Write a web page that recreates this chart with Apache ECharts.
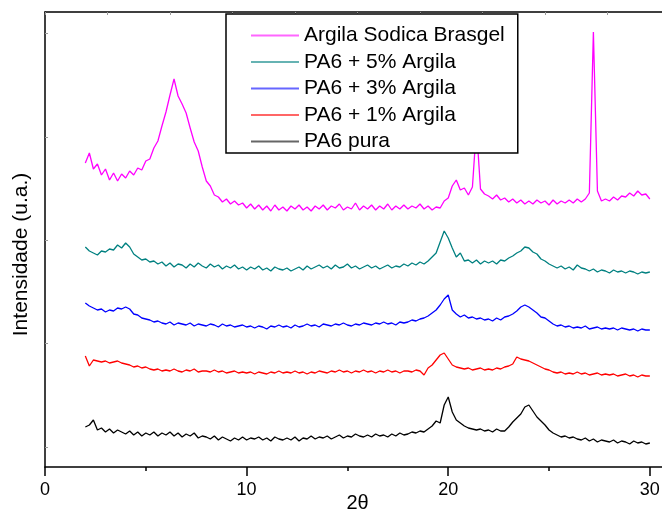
<!DOCTYPE html>
<html>
<head>
<meta charset="utf-8">
<title>DRX - PA6 / argila</title>
<script src="https://cdn.jsdelivr.net/npm/echarts@6/dist/echarts.min.js"></script>
<style>
  html, body { margin: 0; padding: 0; background: #fff; }
  #chart { width: 662px; height: 511px; }
</style>
</head>
<body>
<div id="chart"></div>
<script>
// 2θ (graus), passo 0.2
const TWO_THETA = [
  2.0, 2.2, 2.4, 2.6, 2.8, 3.0, 3.2, 3.4, 3.6, 3.8,
  4.0, 4.2, 4.4, 4.6, 4.8, 5.0, 5.2, 5.4, 5.6, 5.8,
  6.0, 6.2, 6.4, 6.6, 6.8, 7.0, 7.2, 7.4, 7.6, 7.8,
  8.0, 8.2, 8.4, 8.6, 8.8, 9.0, 9.2, 9.4, 9.6, 9.8,
  10.0, 10.2, 10.4, 10.6, 10.8, 11.0, 11.2, 11.4, 11.6, 11.8,
  12.0, 12.2, 12.4, 12.6, 12.8, 13.0, 13.2, 13.4, 13.6, 13.8,
  14.0, 14.2, 14.4, 14.6, 14.8, 15.0, 15.2, 15.4, 15.6, 15.8,
  16.0, 16.2, 16.4, 16.6, 16.8, 17.0, 17.2, 17.4, 17.6, 17.8,
  18.0, 18.2, 18.4, 18.6, 18.8, 19.0, 19.2, 19.4, 19.6, 19.8,
  20.0, 20.2, 20.4, 20.6, 20.8, 21.0, 21.2, 21.4, 21.6, 21.8,
  22.0, 22.2, 22.4, 22.6, 22.8, 23.0, 23.2, 23.4, 23.6, 23.8,
  24.0, 24.2, 24.4, 24.6, 24.8, 25.0, 25.2, 25.4, 25.6, 25.8,
  26.0, 26.2, 26.4, 26.6, 26.8, 27.0, 27.2, 27.4, 27.6, 27.8,
  28.0, 28.2, 28.4, 28.6, 28.8, 29.0, 29.2, 29.4, 29.6, 29.8,
  30.0
];

// intensidades (u.a.), curvas já deslocadas como no gráfico original
const ARGILA_SODICA = [
  304, 314, 298, 303, 292, 298, 287, 294, 286, 293,
  289, 296, 292, 299, 297, 306, 308, 319, 326, 341,
  355, 372, 388, 371, 363, 354, 339, 325, 316, 300,
  286, 281, 272, 270, 265, 268, 263, 266, 262, 264,
  259, 263, 258, 262, 257, 261, 256, 262, 257, 260,
  256, 261, 258, 262, 257, 260, 256, 261, 258, 262,
  257, 261, 259, 263, 257, 260, 258, 264, 257, 261,
  258, 262, 257, 261, 258, 263, 257, 261, 258, 262,
  258, 261, 259, 263, 258, 261, 257, 260, 259, 266,
  269, 281, 287, 277, 279, 272, 280, 340, 278, 273,
  271, 268, 272, 267, 269, 265, 268, 264, 267, 263,
  266, 263, 267, 264, 266, 262, 267, 263, 266, 264,
  267, 264, 268, 265, 268, 274, 435, 276, 266, 268,
  266, 270, 267, 271, 270, 274, 271, 276, 272, 273,
  268
];

const PA6_5 = [
  220, 216, 214, 212, 216, 215, 218, 217, 222, 219,
  224, 220, 213, 210, 207, 208, 205, 206, 203, 205,
  201, 204, 200, 203, 202, 199, 203, 200, 204, 201,
  199, 203, 200, 202, 198, 201, 199, 202, 198, 200,
  197, 200, 198, 201, 197, 199, 196, 200, 198, 197,
  199, 196, 198, 200, 197, 201, 198, 200, 202, 199,
  201, 198, 202, 199, 200, 203, 199, 201, 198, 200,
  202, 199, 201, 198, 200, 202, 199, 201, 200, 203,
  201, 204, 202, 205, 203, 206, 210, 214, 225, 236,
  229, 219, 210, 214, 206, 207, 204, 207, 203, 206,
  204, 206, 203, 207, 206, 209, 211, 214, 216, 220,
  219, 215, 213, 208, 206, 203, 201, 199, 201, 198,
  200, 197, 202, 199, 198, 196, 198, 195, 197, 196,
  194, 197, 195, 196, 194, 196, 195, 193, 195, 194,
  195
];

const PA6_3 = [
  164, 161, 159, 157, 158, 155, 157, 156, 159, 158,
  160, 158, 153, 152, 149, 148, 147, 145, 146, 144,
  143, 145, 142, 144, 143, 142, 144, 141, 143, 142,
  141, 143, 142, 140, 143, 141, 142, 140, 141, 142,
  140, 141, 139, 141, 140, 138, 141, 140, 142, 140,
  141, 139, 142, 140, 141, 143, 141, 142, 140, 143,
  142, 141, 143, 142, 144, 142, 141, 143, 142, 144,
  143, 142, 144, 143, 145, 143, 144, 142, 145, 144,
  145, 147, 146, 148, 149, 151, 154, 157, 162, 168,
  172, 157, 153, 150, 152, 149, 150, 148, 149, 147,
  148, 146, 149, 147, 150, 151, 153, 156, 160, 162,
  160, 157, 154, 150, 149, 146, 143, 141, 142, 140,
  141, 139, 140, 139, 141, 138, 139, 140, 138, 139,
  138, 139, 137, 139, 138, 137, 138, 136, 138, 137,
  137
];

const PA6_1 = [
  111, 101, 107, 106, 105, 106, 104, 105, 106, 104,
  103, 102, 100, 101, 99, 100, 98, 97, 98, 96,
  97, 96, 98, 96, 95, 97, 96, 98, 95, 96,
  96, 95, 97, 95, 96, 94, 95, 96, 94, 95,
  94, 95, 93, 95, 94, 93, 95, 94, 96, 94,
  95, 94, 96, 94, 95, 93, 95, 94, 96, 95,
  94, 96, 95, 97, 95, 96, 94, 96, 95, 97,
  95, 96, 94, 96, 95, 97, 95, 96, 94, 96,
  96, 95, 97, 96, 92, 99, 102, 107, 112, 114,
  108, 102, 100, 99, 98, 99, 97, 98, 99, 97,
  98, 97, 99, 98, 100, 101, 103, 110, 108, 107,
  106, 104, 102, 100, 98, 97, 95, 94, 95, 93,
  94, 93, 95, 93, 94, 92, 93, 94, 92, 93,
  92, 93, 91, 92, 93, 91, 92, 90, 92, 91,
  91
];

const PA6_PURA = [
  40, 42, 47, 37, 39, 35, 38, 34, 37, 35,
  33, 36, 32, 35, 31, 34, 32, 35, 31, 34,
  32, 35, 31, 34, 30, 33, 31, 34, 29, 31,
  30, 28, 31, 27, 30, 28, 26, 29, 27, 30,
  27, 29, 28, 30, 27, 29, 26, 30, 28, 27,
  29, 27, 30, 26, 29, 28, 31, 28, 30, 29,
  31, 28, 30, 32, 29, 31, 30, 33, 31, 30,
  32, 30, 33, 31, 32, 30, 33, 31, 34, 32,
  33, 35, 34, 36, 35, 38, 41, 46, 44, 62,
  70, 55, 47, 44, 41, 39, 38, 37, 38, 36,
  37, 35, 38, 36, 36, 40, 45, 49, 53, 60,
  62, 56, 50, 46, 42, 37, 34, 32, 30, 31,
  29, 30, 28, 27, 29, 26, 28, 25, 27, 26,
  25, 27, 24, 26, 25, 23, 26, 24, 25, 23,
  24
];

const SERIES_NAMES = [
  'Argila Sodica Brasgel',
  'PA6 + 5% Argila',
  'PA6 + 3% Argila',
  'PA6 + 1% Argila',
  'PA6 pura'
];
const SERIES_VALUES = [ARGILA_SODICA, PA6_5, PA6_3, PA6_1, PA6_PURA];
const SERIES_COLORS = ['#ff00ff', '#008080', '#0000ff', '#ff0000', '#000000'];

// marcas do eixo y (sem rótulos)
const Y_TICKS = [20, 124, 227, 330, 434];

const FONT = '"Liberation Sans", Arial, sans-serif';

const chart = echarts.init(document.getElementById('chart'), null, { renderer: 'canvas' });

const option = {
  animation: false,
  backgroundColor: '#fff',
  grid: {
    left: 45,
    top: 12,
    width: 625,
    height: 455,
    outerBoundsMode: 'none'
  },
  legend: {
    orient: 'vertical',
    left: 226,
    top: 14,
    padding: [11, 13, 1, 24],
    itemWidth: 48,
    itemHeight: 20,
    itemGap: 5.5,
    backgroundColor: '#fff',
    borderColor: '#000',
    borderWidth: 1.5,
    borderRadius: 0,
    data: SERIES_NAMES,
    // só a linha, sem o marcador redondo
    itemStyle: { opacity: 0 },
    lineStyle: { width: 2, opacity: 0.6 },
    textStyle: {
      fontFamily: FONT,
      fontSize: 21,
      lineHeight: 20,
      color: '#000'
    }
  },
  xAxis: [
    {
      type: 'value',
      position: 'bottom',
      min: 0,
      max: 31,
      interval: 10,
      name: '2θ',
      nameLocation: 'middle',
      nameGap: 26,
      nameMoveOverlap: false,
      nameTextStyle: { fontFamily: FONT, fontSize: 20, color: '#000' },
      axisLine: { show: true, onZero: false, lineStyle: { color: '#000', width: 1.5 } },
      axisTick: { show: true, inside: false, length: 9, lineStyle: { color: '#000', width: 1.5 } },
      minorTick: { show: true, splitNumber: 2, length: 4, lineStyle: { color: '#000', width: 1.5 } },
      axisLabel: {
        showMaxLabel: false,
        margin: 14,
        fontFamily: FONT,
        fontSize: 18,
        color: '#000'
      },
      splitLine: { show: false }
    },
    {
      type: 'value',
      position: 'top',
      min: 0,
      max: 31,
      interval: 3.1,
      axisLine: { show: true, onZero: false, lineStyle: { color: '#000', width: 1.5 } },
      axisTick: { show: true, inside: true, length: 3, lineStyle: { color: '#999', width: 1 } },
      axisLabel: { show: false },
      splitLine: { show: false }
    }
  ],
  yAxis: {
    type: 'value',
    min: 0,
    max: 455,
    name: 'Intensidade (u.a.)',
    nameLocation: 'middle',
    nameGap: 13,
    nameMoveOverlap: false,
    nameTextStyle: { fontFamily: FONT, fontSize: 21, color: '#000', padding: [0, 30, 0, 0] },
    axisLine: { show: true, onZero: false, lineStyle: { color: '#000', width: 1.5 } },
    axisTick: { show: true, inside: true, length: 3, customValues: Y_TICKS, lineStyle: { color: '#999', width: 1 } },
    axisLabel: { show: false },
    splitLine: { show: false }
  },
  series: SERIES_NAMES.map((name, k) => ({
    name,
    type: 'line',
    xAxisIndex: 0,
    symbol: 'none',
    smooth: false,
    color: SERIES_COLORS[k],
    lineStyle: { color: SERIES_COLORS[k], width: 1.3 },
    data: TWO_THETA.map((x, i) => [x, SERIES_VALUES[k][i]])
  }))
};

chart.setOption(option);
</script>
</body>
</html>
